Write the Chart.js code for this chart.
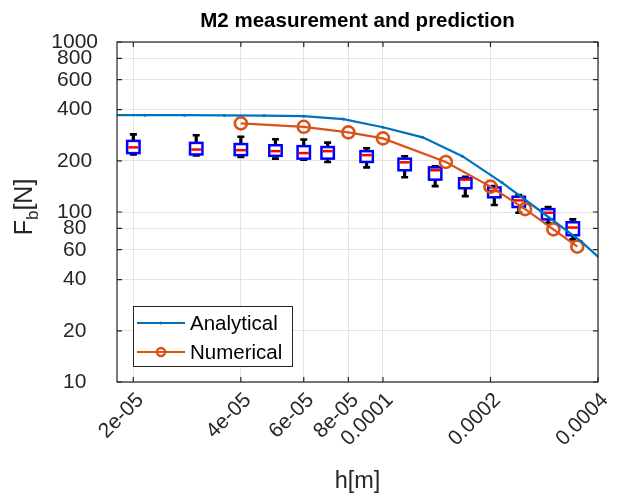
<!DOCTYPE html>
<html><head><meta charset="utf-8">
<script src="https://cdn.jsdelivr.net/npm/chart.js@4/dist/chart.umd.min.js"></script>
<style>html,body{margin:0;padding:0;background:#fff;}#wrap{width:617px;height:498px;}</style>
</head><body><div id="wrap"><canvas id="c" width="617" height="498"></canvas></div>
<script>
// ---- data ----
const analyticalH = [1.668e-5, 2.154e-5, 2.783e-5, 3.594e-5, 4.642e-5, 5.995e-5, 7.743e-5, 1.0e-4, 1.292e-4, 1.668e-4, 2.154e-4, 2.783e-4, 3.594e-4, 4.642e-4];
const analyticalF = [371, 371, 371, 370, 369, 366, 352, 315, 275, 213, 149, 100, 67, 41];
const numericalH = [4e-5, 6e-5, 8e-5, 1e-4, 1.5e-4, 2e-4, 2.5e-4, 3e-4, 3.5e-4];
const numericalF = [332, 317, 294, 271, 197, 141, 104, 79, 62.5];
const boxH   = [2e-5, 3e-5, 4e-5, 5e-5, 6e-5, 7e-5, 9e-5, 1.15e-4, 1.4e-4, 1.7e-4, 2.05e-4, 2.4e-4, 2.9e-4, 3.4e-4];
const boxMax = [286, 283, 277, 268, 267, 256, 237, 213, 186, 161, 142, 126, 107, 90.5];
const boxQ3  = [262, 255, 251, 247, 244, 241, 228, 206, 183, 158, 139.5, 123, 104, 87];
const boxMed = [240, 233, 231, 228, 222, 228, 216, 196, 176, 155, 133, 117, 99, 81];
const boxQ1  = [222, 218, 216, 214, 206, 206, 197, 176, 155, 138, 122, 107, 90.5, 73];
const boxMin = [218, 215, 211, 206, 203, 197, 183, 160, 142, 124, 110, 99, 86, 69];
const xTickValues = [2e-5, 4e-5, 6e-5, 8e-5, 1e-4, 2e-4, 4e-4];
const xTickLabels = ['2e-05', '4e-05', '6e-05', '8e-05', '0.0001', '0.0002', '0.0004'];
const yTickValues = [10, 20, 40, 60, 80, 100, 200, 400, 600, 800, 1000];
const yTickLabels = ['10', '20', '40', '60', '80', '100', '200', '400', '600', '800', '1000'];
const seriesNames = ['Analytical', 'Numerical'];
const seriesColors = ['#0072BD', '#D95319'];

const FONT = "'Liberation Sans', Arial, Helvetica, sans-serif";
const AXC = '#262626';

const decor = {
  id: 'decor',
  beforeDatasetsDraw(chart) {
    const {ctx, chartArea: a, scales: {x, y}} = chart;
    ctx.save();
    ctx.beginPath(); ctx.rect(a.left, a.top, a.right - a.left, a.bottom - a.top); ctx.clip();
    for (let i = 0; i < boxH.length; i++) {
      const px = x.getPixelForValue(boxH[i]);
      const yMax = y.getPixelForValue(boxMax[i]);
      const yQ3 = y.getPixelForValue(boxQ3[i]);
      const yMed = y.getPixelForValue(boxMed[i]);
      const yQ1 = y.getPixelForValue(boxQ1[i]);
      const yMin = y.getPixelForValue(boxMin[i]);
      ctx.strokeStyle = '#000';
      ctx.lineWidth = 3.2;
      ctx.beginPath();
      ctx.moveTo(px, yMax); ctx.lineTo(px, yQ3);
      ctx.moveTo(px, yQ1); ctx.lineTo(px, yMin);
      ctx.stroke();
      ctx.lineWidth = 2.6;
      ctx.beginPath();
      ctx.moveTo(px - 3.5, yMax); ctx.lineTo(px + 3.5, yMax);
      ctx.moveTo(px - 3.5, yMin); ctx.lineTo(px + 3.5, yMin);
      ctx.stroke();
      ctx.fillStyle = '#fff';
      ctx.fillRect(px - 6.2, yQ3, 12.4, yQ1 - yQ3);
      ctx.strokeStyle = '#0000FF';
      ctx.lineWidth = 2.5;
      ctx.strokeRect(px - 6.2, yQ3, 12.4, yQ1 - yQ3);
      ctx.strokeStyle = '#FF0000';
      ctx.lineWidth = 2.5;
      ctx.beginPath();
      ctx.moveTo(px - 5, yMed); ctx.lineTo(px + 5, yMed);
      ctx.stroke();
    }
    ctx.restore();
  },
  afterDatasetsDraw(chart) {
    const {ctx, chartArea: a, scales: {x, y}} = chart;
    ctx.save();
    // frame
    ctx.strokeStyle = AXC;
    ctx.lineWidth = 1.2;
    ctx.strokeRect(a.left, a.top, a.right - a.left, a.bottom - a.top);
    // inside ticks
    ctx.beginPath();
    for (const v of yTickValues) {
      const py = y.getPixelForValue(v);
      ctx.moveTo(a.left, py); ctx.lineTo(a.left + 5, py);
      ctx.moveTo(a.right, py); ctx.lineTo(a.right - 5, py);
    }
    for (const v of xTickValues) {
      const px = x.getPixelForValue(v);
      ctx.moveTo(px, a.bottom); ctx.lineTo(px, a.bottom - 5);
      ctx.moveTo(px, a.top); ctx.lineTo(px, a.top + 5);
    }
    ctx.stroke();

    // legend
    const lx = 133, ly = 306, lw = 159, lh = 60;
    ctx.fillStyle = '#fff';
    ctx.fillRect(lx, ly, lw, lh);
    ctx.strokeStyle = AXC; ctx.lineWidth = 1;
    ctx.strokeRect(lx + 0.5, ly + 0.5, lw, lh);
    const rows = [ly + 17, ly + 46];
    ctx.font = '20.5px ' + FONT;
    ctx.textBaseline = 'middle';
    ctx.textAlign = 'left';
    for (let k = 0; k < 2; k++) {
      const ry = rows[k];
      ctx.strokeStyle = seriesColors[k];
      ctx.lineWidth = 2;
      ctx.beginPath(); ctx.moveTo(137, ry); ctx.lineTo(185, ry); ctx.stroke();
      if (k === 0) {
        ctx.fillStyle = seriesColors[k];
        ctx.beginPath(); ctx.arc(161, ry, 1.5, 0, Math.PI * 2); ctx.fill();
      } else {
        ctx.lineWidth = 2.5;
        ctx.beginPath(); ctx.arc(161, ry, 4, 0, Math.PI * 2); ctx.stroke();
      }
      ctx.fillStyle = '#000';
      ctx.fillText(seriesNames[k], 190, ry + 1);
    }

    // y axis title with subscript
    ctx.fillStyle = AXC;
    ctx.translate(32, 207);
    ctx.rotate(-Math.PI / 2);
    ctx.textBaseline = 'alphabetic';
    const big = '25px ' + FONT, small = '17px ' + FONT;
    ctx.font = big; const wF = ctx.measureText('F').width;
    const wN = ctx.measureText('[N]').width;
    ctx.font = small; const wb = ctx.measureText('b').width;
    const total = wF + wb + wN;
    let cx = -total / 2;
    ctx.font = big; ctx.fillText('F', cx, 0); cx += wF;
    ctx.font = small; ctx.fillText('b', cx, 6); cx += wb;
    ctx.font = big; ctx.fillText('[N]', cx, 0);
    ctx.restore();
  }
};

new Chart(document.getElementById('c'), {
  type: 'scatter',
  data: {
    datasets: [
      {
        label: seriesNames[0],
        data: analyticalH.map((h, i) => ({x: h, y: analyticalF[i]})),
        showLine: true,
        borderColor: seriesColors[0],
        backgroundColor: seriesColors[0],
        borderWidth: 2.2,
        pointRadius: 1.5,
        pointBorderWidth: 0,
        pointBackgroundColor: seriesColors[0],
        tension: 0
      },
      {
        label: seriesNames[1],
        data: numericalH.map((h, i) => ({x: h, y: numericalF[i]})),
        showLine: true,
        borderColor: seriesColors[1],
        backgroundColor: 'rgba(0,0,0,0)',
        borderWidth: 2.2,
        pointRadius: 6,
        pointBorderWidth: 2.6,
        pointBorderColor: seriesColors[1],
        pointBackgroundColor: 'rgba(0,0,0,0)',
        tension: 0
      }
    ]
  },
  options: {
    responsive: false,
    devicePixelRatio: 1,
    animation: false,
    layout: {padding: {left: 0, right: 19, top: 0, bottom: 0}},
    plugins: {
      legend: {display: false},
      tooltip: {enabled: false},
      title: {
        display: true,
        text: 'M2 measurement and prediction',
        fullSize: false,
        color: '#000',
        font: {family: FONT, size: 20.5, weight: 'bold'},
        padding: {top: 9, bottom: 8.4}
      }
    },
    scales: {
      x: {
        type: 'logarithmic',
        position: 'bottom',
        min: 1.8e-5,
        max: 4e-4,
        afterBuildTicks: (s) => { s.ticks = xTickValues.map(v => ({value: v})); },
        afterFit: (s) => { s.height = 116; s.paddingLeft = 0; s.paddingRight = 0; },
        ticks: {
          autoSkip: false,
          minRotation: 45,
          maxRotation: 45,
          padding: 6,
          labelOffset: 7,
          color: AXC,
          font: {family: FONT, size: 21},
          callback: (v, i) => xTickLabels[i]
        },
        grid: {color: '#e3e3e3', lineWidth: 1, drawTicks: false},
        border: {display: false},
        title: {display: true, text: 'h[m]', color: AXC, font: {family: FONT, size: 23.5}, padding: {top: 0, bottom: 2}}
      },
      y: {
        type: 'logarithmic',
        position: 'left',
        min: 10,
        max: 1000,
        afterBuildTicks: (s) => { s.ticks = yTickValues.map(v => ({value: v})); },
        afterFit: (s) => { s.width = 117; s.paddingTop = 0; s.paddingBottom = 0; },
        ticks: {
          autoSkip: false,
          padding: 19,
          crossAlign: 'center',
          color: AXC,
          font: {family: FONT, size: 21},
          callback: (v, i) => yTickLabels[i]
        },
        grid: {color: '#e3e3e3', lineWidth: 1, drawTicks: false},
        border: {display: false}
      }
    }
  },
  plugins: [decor]
});
</script>
</body></html>
